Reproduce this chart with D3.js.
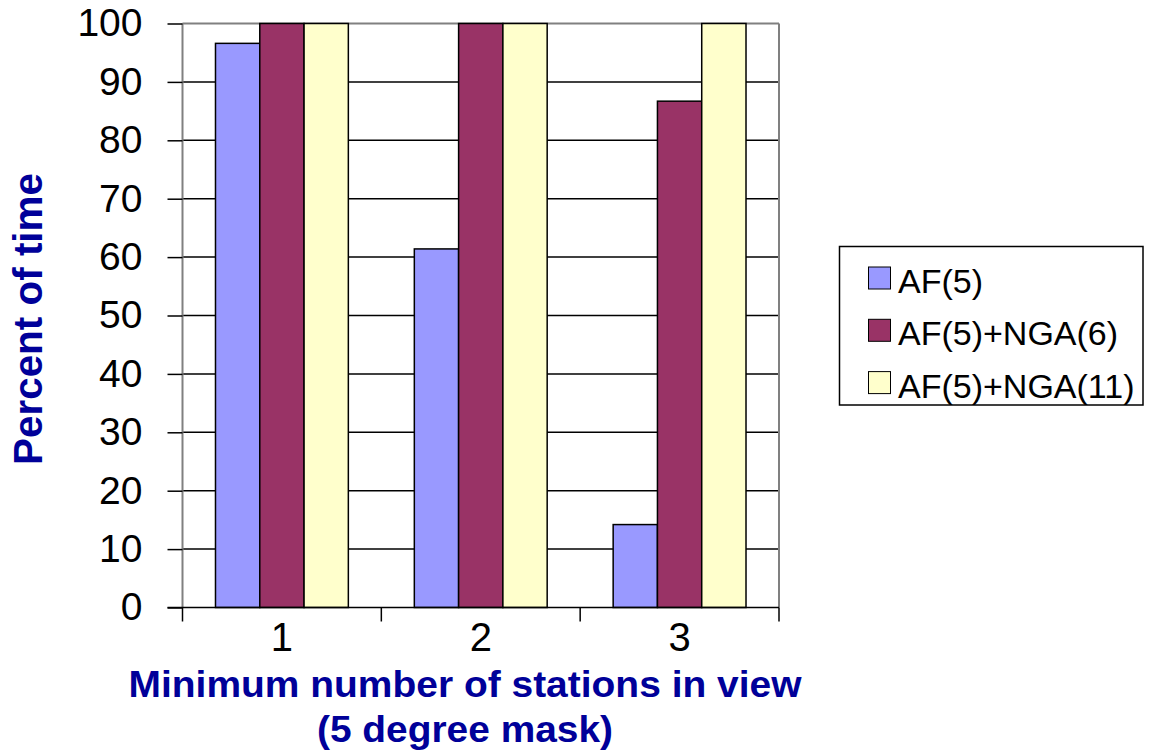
<!DOCTYPE html>
<html>
<head>
<meta charset="utf-8">
<script src="https://cdn.jsdelivr.net/npm/d3@7"></script>
<style>
  html, body { margin: 0; padding: 0; background: #fff; }
  svg { display: block; font-family: "Liberation Sans", Arial, sans-serif; }
</style>
</head>
<body>
<svg id="chart" width="1152" height="754"></svg>
<script>
// Minimum number of stations in view (x categories)
const categories = ["1", "2", "3"];
// Series names and colours
const seriesNames = ["AF(5)", "AF(5)+NGA(6)", "AF(5)+NGA(11)"];
const seriesColors = ["#9999FF", "#993366", "#FFFFCC"];
// Percent of time, one array per series (values per category)
const af5 = [96.6, 61.4, 14.2];
const af5nga6 = [100, 100, 86.7];
const af5nga11 = [100, 100, 100];
const yTicks = [0, 10, 20, 30, 40, 50, 60, 70, 80, 90, 100];

const seriesValues = [af5, af5nga6, af5nga11];

const svg = d3.select("#chart");
const plot = { left: 182.5, right: 779, top: 23.5, bottom: 607.5 };

const x0 = d3.scaleBand().domain(categories).range([plot.left, plot.right]).padding(0);
const x1 = d3.scaleBand().domain(seriesNames).range([0, x0.bandwidth()])
  .paddingInner(0).paddingOuter(0.745);
const y = d3.scaleLinear().domain([0, 100]).range([plot.bottom, plot.top]);

// Horizontal grid lines
svg.append("g").selectAll("line").data(yTicks.filter(d => d > 0)).join("line")
  .attr("x1", plot.left).attr("x2", plot.right)
  .attr("y1", d => y(d)).attr("y2", d => y(d))
  .attr("stroke", d => d === 100 ? "#808080" : "#000")
  .attr("stroke-width", d => d === 100 ? 2 : 1.5);

// Plot frame sides (grey)
svg.append("line").attr("x1", plot.left).attr("x2", plot.left)
  .attr("y1", plot.top).attr("y2", plot.bottom).attr("stroke", "#808080").attr("stroke-width", 2);
svg.append("line").attr("x1", plot.right).attr("x2", plot.right)
  .attr("y1", plot.top).attr("y2", plot.bottom).attr("stroke", "#808080").attr("stroke-width", 2);

// Bars
const groups = svg.append("g").selectAll("g").data(categories).join("g")
  .attr("transform", d => `translate(${x0(d)},0)`);
groups.selectAll("rect")
  .data((c, ci) => seriesNames.map((s, si) => ({ s, si, v: seriesValues[si][ci] })))
  .join("rect")
  .attr("x", d => x1(d.s))
  .attr("width", x1.bandwidth())
  .attr("y", d => y(d.v))
  .attr("height", d => y(0) - y(d.v))
  .attr("fill", d => seriesColors[d.si])
  .attr("stroke", "#000")
  .attr("stroke-width", 1.5);

// Y axis
const yAxis = svg.append("g").attr("transform", `translate(${plot.left},0)`)
  .call(d3.axisLeft(y).tickValues(yTicks).tickSize(15).tickPadding(25));
yAxis.select(".domain").remove();
yAxis.selectAll(".tick line").attr("stroke", "#000").attr("stroke-width", 1.5);
yAxis.selectAll(".tick text").attr("font-size", 39).attr("fill", "#000")
  .attr("font-family", "Liberation Sans, Arial, sans-serif");

// X axis
const xTickScale = d3.scalePoint().domain(d3.range(categories.length + 1)).range([plot.left, plot.right]);
svg.append("line").attr("x1", plot.left - 15).attr("x2", plot.right)
  .attr("y1", plot.bottom).attr("y2", plot.bottom).attr("stroke", "#000").attr("stroke-width", 1.5);
svg.append("g").selectAll("line").data(xTickScale.domain()).join("line")
  .attr("x1", d => xTickScale(d)).attr("x2", d => xTickScale(d))
  .attr("y1", plot.bottom).attr("y2", plot.bottom + 14)
  .attr("stroke", "#000").attr("stroke-width", 1.5);
svg.append("g").selectAll("text").data(categories).join("text")
  .attr("x", d => x0(d) + x0.bandwidth() / 2)
  .attr("y", 651)
  .attr("text-anchor", "middle")
  .attr("font-size", 40)
  .attr("fill", "#000")
  .text(d => d);

// Axis titles
const titleColor = "#000099";
svg.append("text").attr("x", 465).attr("y", 697).attr("text-anchor", "middle")
  .attr("font-size", 36.6).attr("font-weight", "bold").attr("fill", titleColor)
  .attr("textLength", 673).attr("lengthAdjust", "spacingAndGlyphs")
  .text("Minimum number of stations in view");
svg.append("text").attr("x", 465).attr("y", 742).attr("text-anchor", "middle")
  .attr("font-size", 36.6).attr("font-weight", "bold").attr("fill", titleColor)
  .attr("textLength", 296).attr("lengthAdjust", "spacingAndGlyphs")
  .text("(5 degree mask)");
svg.append("text")
  .attr("transform", "translate(42,319) rotate(-90)")
  .attr("text-anchor", "middle")
  .attr("font-size", 41).attr("font-weight", "bold").attr("fill", titleColor)
  .attr("textLength", 292).attr("lengthAdjust", "spacingAndGlyphs")
  .text("Percent of time");

// Legend
const legend = svg.append("g");
legend.append("rect").attr("x", 839.5).attr("y", 246.5).attr("width", 303.5).attr("height", 158.5)
  .attr("fill", "#fff").attr("stroke", "#000").attr("stroke-width", 1.5);
const items = legend.selectAll("g.item").data(seriesNames).join("g")
  .attr("class", "item")
  .attr("transform", (d, i) => `translate(0,${293 + i * 52.3})`);
items.append("rect").attr("x", 868.5).attr("y", -26).attr("width", 22).attr("height", 22)
  .attr("fill", (d, i) => seriesColors[i]).attr("stroke", "#000").attr("stroke-width", 1);
items.append("text").attr("x", 898).attr("y", 0)
  .attr("font-size", 34).attr("fill", "#000")
  .text(d => d);
</script>
</body>
</html>
